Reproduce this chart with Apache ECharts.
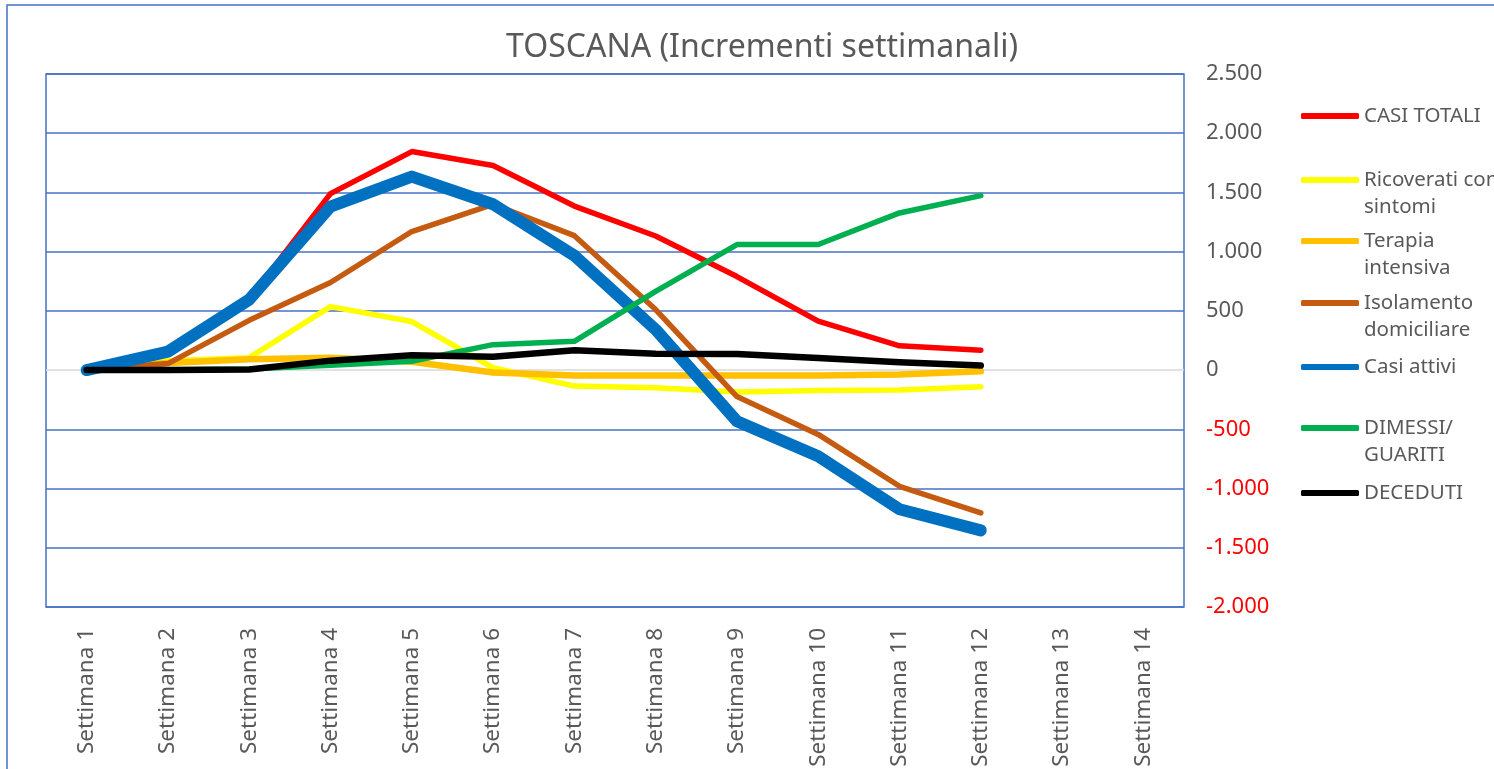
<!DOCTYPE html>
<html>
<head>
<meta charset="utf-8">
<title>TOSCANA (Incrementi settimanali)</title>
<script src="https://cdn.jsdelivr.net/npm/echarts@6/dist/echarts.min.js"></script>
<style>
  html, body { margin: 0; padding: 0; background: #fff; }
  #chart { width: 1494px; height: 769px; }
</style>
</head>
<body>
<div id="chart"></div>
<script>
// settimane
var weeks = ['Settimana 1', 'Settimana 2', 'Settimana 3', 'Settimana 4', 'Settimana 5',
  'Settimana 6', 'Settimana 7', 'Settimana 8', 'Settimana 9', 'Settimana 10',
  'Settimana 11', 'Settimana 12', 'Settimana 13', 'Settimana 14']

// incrementi settimanali
var casiTotali = [0, 160, 600, 1490, 1845, 1727, 1385, 1132, 790, 414, 205, 168]
var ricoverati = [0, 80, 105, 536, 410, 20, -135, -148, -185, -172, -168, -140]
var terapia = [0, 60, 92, 105, 70, -20, -45, -46, -46, -45, -38, -10]
var isolamento = [0, 55, 420, 740, 1170, 1400, 1135, 511, -223, -543, -981, -1205]
var casiAttivi = [0, 156, 595, 1380, 1634, 1400, 967, 342, -432, -728, -1175, -1353]
var dimessi = [0, 0, 10, 40, 75, 215, 243, 665, 1060, 1060, 1327, 1473]
var deceduti = [0, 0, 5, 80, 125, 113, 167, 139, 137, 103, 66, 38]

var yTicks = { min: -2000, max: 2500, step: 500 }

var chart = echarts.init(document.getElementById('chart'))

var font = '"Noto Sans", "Open Sans", sans-serif'
var grigio = '#595959'
var blu = '#4472C4'
var lh = 27

// colori delle linee orizzontali (lo zero e' grigio chiaro)
var splitColors = []
for (var v = yTicks.min; v <= yTicks.max; v += yTicks.step) {
  splitColors.push(v === 0 ? '#D9D9D9' : blu)
}

function fmt(val) {
  var s = Math.abs(val).toString().replace(/\B(?=(\d{3})+(?!\d))/g, '.')
  return val < 0 ? '{neg|-' + s + '}' : s
}

var series = [
  { name: 'CASI TOTALI', data: casiTotali, color: '#FF0000', width: 5.5, iconY: 114 },
  { name: 'Ricoverati con sintomi', data: ricoverati, color: '#FFFF00', width: 5.5, iconY: 180 },
  { name: 'Terapia intensiva', data: terapia, color: '#FFC000', width: 6.5, iconY: 241 },
  { name: 'Isolamento domiciliare', data: isolamento, color: '#C55A11', width: 5.5, iconY: 303 },
  { name: 'Casi attivi', data: casiAttivi, color: '#0070C0', width: 12, iconY: 365 },
  { name: 'DIMESSI/ GUARITI', data: dimessi, color: '#00B050', width: 5.5, iconY: 428 },
  { name: 'DECEDUTI', data: deceduti, color: '#000000', width: 6.5, iconY: 491 }
]

// testo a capo: una riga vuota davanti tiene l'icona sulla prima riga
var wrapped = {
  'Ricoverati con sintomi': ' \nRicoverati con\nsintomi',
  'Terapia intensiva': ' \nTerapia\nintensiva',
  'Isolamento domiciliare': ' \nIsolamento\ndomiciliare',
  'DIMESSI/ GUARITI': ' \nDIMESSI/\nGUARITI'
}

var legends = series.map(function (s) {
  return {
    left: 1301,
    top: wrapped[s.name] ? s.iconY - 1.5 * lh : s.iconY - 11.5,
    orient: 'vertical',
    data: [s.name],
    icon: 'roundRect',
    itemWidth: 58,
    itemHeight: 6,
    itemGap: 0,
    padding: 0,
    selectedMode: false,
    formatter: function (name) { return wrapped[name] || name },
    textStyle: {
      fontFamily: font,
      fontSize: 20.5,
      color: grigio,
      lineHeight: lh
    }
  }
})

chart.setOption({
  animation: false,
  backgroundColor: '#fff',
  title: {
    text: 'TOSCANA (Incrementi settimanali)',
    left: 757,
    textAlign: 'center',
    top: 27,
    textStyle: { fontFamily: font, fontSize: 32, fontWeight: 'normal', color: grigio }
  },
  graphic: [{
    type: 'rect',
    shape: { x: 7, y: 5, width: 1600, height: 900 },
    style: { fill: 'none', stroke: blu, lineWidth: 1.5 },
    silent: true
  }],
  legend: legends,
  grid: {
    left: 46,
    right: 310,
    top: 74,
    bottom: 162,
    outerBoundsMode: 'none',
    show: true,
    borderColor: blu,
    borderWidth: 1.5
  },
  xAxis: {
    type: 'category',
    data: weeks,
    boundaryGap: true,
    axisLine: { show: false },
    axisTick: { show: false },
    axisLabel: {
      rotate: 90,
      margin: 21,
      interval: 0,
      fontFamily: font,
      fontSize: 22.5,
      color: grigio
    }
  },
  yAxis: {
    type: 'value',
    position: 'right',
    min: yTicks.min,
    max: yTicks.max,
    interval: yTicks.step,
    axisLine: { show: false },
    axisTick: { show: false },
    splitLine: { lineStyle: { color: splitColors, width: 1.5 } },
    axisLabel: {
      margin: 22,
      fontFamily: font,
      fontSize: 22,
      color: grigio,
      formatter: fmt,
      rich: { neg: { color: '#FF0000', fontFamily: font, fontSize: 22 } }
    }
  },
  series: series.map(function (s) {
    return {
      name: s.name,
      type: 'line',
      data: s.data,
      showSymbol: false,
      symbol: 'none',
      color: s.color,
      lineStyle: { color: s.color, width: s.width, cap: 'round', join: 'round' }
    }
  })
})
</script>
</body>
</html>
